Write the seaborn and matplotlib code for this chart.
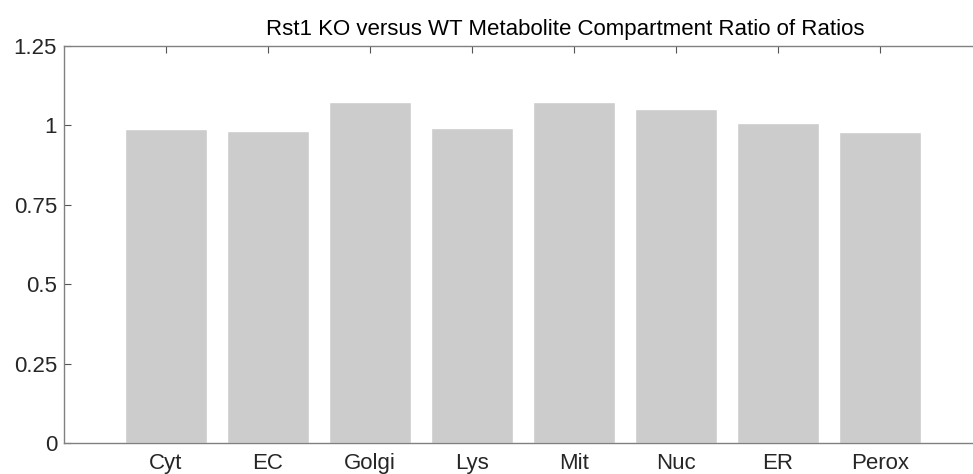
import seaborn as sns
import matplotlib.pyplot as plt
import pandas as pd
import numpy as np

compartments = ['Cyt', 'EC', 'Golgi', 'Lys', 'Mit', 'Nuc', 'ER', 'Perox']
ratios = [0.988, 0.983, 1.075, 0.991, 1.075, 1.051, 1.009, 0.980]
yticks = [0, 0.25, 0.5, 0.75, 1, 1.25]
ytick_labels = ['0', '0.25', '0.5', '0.75', '1', '1.25']


def run():
    df = pd.DataFrame({'compartment': compartments, 'ratio': ratios})

    sns.set_style('white')
    plt.rcParams['font.family'] = ['Liberation Sans', 'DejaVu Sans']

    fig = plt.figure(figsize=(9.73, 4.74), dpi=100)
    # axes run a little past the right edge, like the original export
    ax = fig.add_axes([64 / 973, 1 - 443 / 474, (982 - 64) / 973, (443 - 46) / 474])

    sns.barplot(df, x='compartment', y='ratio', color='#cccccc', saturation=1,
                width=0.8, ax=ax)

    ax.set_xlim(-1, 8)
    ax.set_ylim(0, 1.25)
    ax.set_yticks(yticks)
    ax.set_yticklabels(ytick_labels)
    ax.set_xlabel('')
    ax.set_ylabel('')
    ax.set_title('Rst1 KO versus WT Metabolite Compartment Ratio of Ratios',
                 fontsize=16, color='#000000', pad=8, x=0.546)

    for side in ax.spines.values():
        side.set_color('#808080')
        side.set_linewidth(1.0)
    ax.tick_params(direction='in', length=5, width=0.8, colors='#555555',
                   labelcolor='#262626', labelsize=16,
                   top=True, right=True, bottom=True, left=True)
    ax.tick_params(axis='y', pad=5)
    ax.tick_params(axis='x', pad=7)

    fig.savefig('out.png', dpi=100)


run()
